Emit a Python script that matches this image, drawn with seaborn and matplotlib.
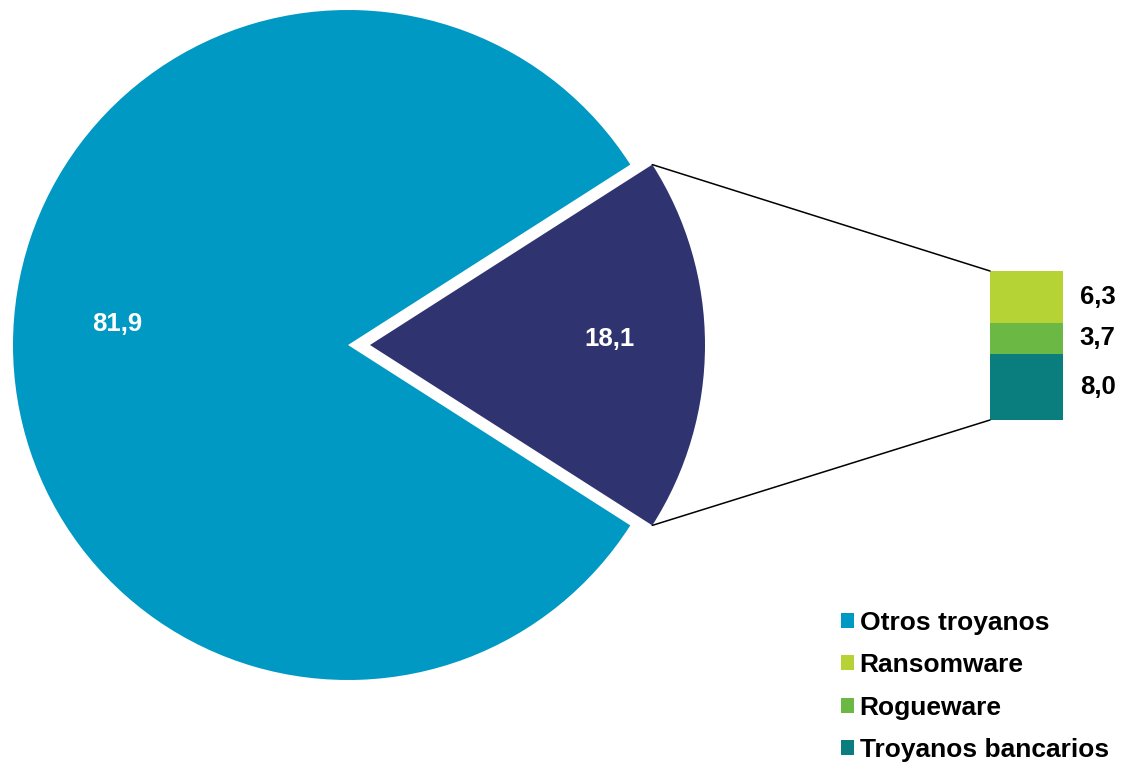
import matplotlib
matplotlib.use("Agg")
import matplotlib.pyplot as plt
from matplotlib.patches import Patch, ConnectionPatch
import numpy as np
import seaborn as sns

# data
pie_labels = ["Troyanos (desglose)", "Otros troyanos"]
pie_values = [18.1, 81.9]
pie_colors = ["#2F3370", "#0099C4"]

bar_labels = ["Troyanos bancarios", "Rogueware", "Ransomware"]  # bottom -> top
bar_values = [8.0, 3.7, 6.3]
bar_colors = ["#0A7E7E", "#6BB845", "#B5D334"]

legend_labels = ["Otros troyanos", "Ransomware", "Rogueware", "Troyanos bancarios"]
legend_colors = ["#0099C4", "#B5D334", "#6BB845", "#0A7E7E"]


def fmt(v):
    return f"{v:.1f}".replace(".", ",")


sns.set_theme(style="white")
plt.rcParams["font.family"] = ["Liberation Sans", "DejaVu Sans"]
plt.rcParams["font.weight"] = "bold"
plt.rcParams["text.color"] = "black"

W, H = 1128, 763
fig = plt.figure(figsize=(W / 100, H / 100), dpi=100)
ax = fig.add_axes([0, 0, 1, 1])

half = pie_values[0] / sum(pie_values) * 360 / 2
# explode is in data units here (pixels), because of the custom radius
wedges, _ = ax.pie(
    pie_values,
    colors=pie_colors,
    startangle=-half,
    center=(359, H - 345),
    radius=335,
    explode=[11, 11],
    wedgeprops=dict(linewidth=0),
)
ax.set_xlim(0, W)
ax.set_ylim(0, H)
ax.set_aspect("auto")
ax.axis("off")

# slice value labels
ax.text(610, H - 339, fmt(pie_values[0]), color="white", fontsize=18.5,
        fontweight="bold", ha="center", va="center")
ax.text(117, H - 324, fmt(pie_values[1]), color="white", fontsize=18.5,
        fontweight="bold", ha="center", va="center")

# stacked bar
bax = fig.add_axes([990 / W, (H - 420) / H, 73 / W, 149 / H])
bottom = 0.0
for lab, v, c in zip(bar_labels, bar_values, bar_colors):
    bax.bar(0, v, bottom=bottom, width=1.0, color=c, linewidth=0)
    bax.annotate(fmt(v), xy=(0.5, bottom + v / 2), xytext=(12, 0),
                 textcoords="offset points", ha="left", va="center",
                 fontsize=18.5, fontweight="bold", color="black")
    bottom += v
bax.set_xlim(-0.5, 0.5)
bax.set_ylim(0, bottom)
bax.axis("off")

# connector lines from the slice edges to the bar
w = wedges[0]
cx, cy = w.center
for ang, ytop in [(w.theta2, bottom), (w.theta1, 0)]:
    p = (cx + w.r * np.cos(np.radians(ang)), cy + w.r * np.sin(np.radians(ang)))
    con = ConnectionPatch(xyA=p, coordsA=ax.transData, xyB=(-0.5, ytop),
                          coordsB=bax.transData, color="black", linewidth=1.1)
    fig.add_artist(con)

handles = [Patch(facecolor=c, edgecolor="none") for c in legend_colors]
leg = fig.legend(handles, legend_labels, loc="upper left",
                 bbox_to_anchor=(830 / W, 1 - 600 / H), frameon=False,
                 handlelength=0.5, handleheight=0.5,
                 handletextpad=0.22, labelspacing=0.7, borderaxespad=0,
                 prop=dict(weight="bold", size=19))
for t in leg.get_texts():
    t.set_color("black")

fig.savefig("out.png", dpi=100)
